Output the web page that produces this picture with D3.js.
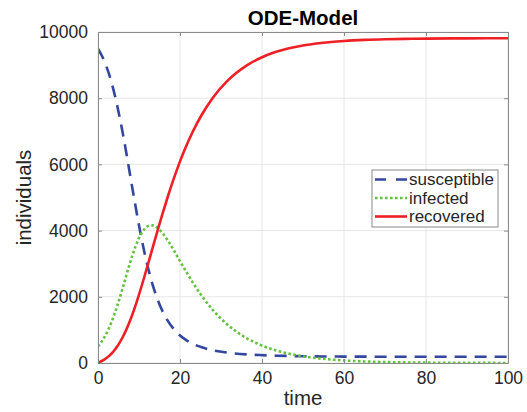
<!DOCTYPE html>
<html>
<head>
<meta charset="utf-8">
<script src="https://cdn.jsdelivr.net/npm/d3@7/dist/d3.min.js"></script>
<style>
  html, body { margin: 0; padding: 0; background: #fff; }
  svg { display: block; font-family: "Liberation Sans", Arial, Helvetica, sans-serif; }
</style>
</head>
<body>
<svg id="chart" width="527" height="412"></svg>
<script>
// ---- data ----
const time = [0,1.52,2.58,3.41,4.09,4.68,5.20,6.11,6.88,7.56,8.48,9.83,11.06,12.23,13.37,14.53,15.71,16.96,18.29,19.73,21.34,23.16,25.31,27.93,31.36,36.40,39.34,43.45,46.32,50.31,56.89,60,65,70,75,80,90,100];
const susceptible = [9500,9128,8770,8426,8095,7778,7473,6898,6368,5878,5214,4269,3495,2861,2343,1918,1570,1286,1053,862,706,578,473,387,317,260,240,221,213,204,196,194,192,190,189,189,188,188];
const infected = [500,773,1030,1274,1505,1722,1927,2302,2632,2922,3286,3731,4005,4139,4157,4082,3930,3714,3447,3138,2794,2422,2027,1613,1183,740,560,379,288,196,104,77,47,29,18,11,4,2];
const recovered = [0,100,200,300,400,500,600,800,1000,1200,1500,2000,2500,3000,3500,4000,4500,5000,5500,6000,6500,7000,7500,8000,8500,9000,9200,9400,9500,9600,9700,9729,9761,9781,9793,9800,9808,9810];
const seriesNames = ["susceptible", "infected", "recovered"];
const xTicks = [0, 20, 40, 60, 80, 100];
const yTicks = [0, 2000, 4000, 6000, 8000, 10000];
const titleText = "ODE-Model";
const xLabelText = "time";
const yLabelText = "individuals";

// ---- layout / styles ----
const W = 527, H = 412;
const plot = { left: 98, top: 32, right: 508, bottom: 363 };
const styles = [
  { color: "#3447a0", dash: "12,8", width: 2.6 },
  { color: "#62c23e", dash: "2.6,2.4", width: 2.6 },
  { color: "#ee2026", dash: null, width: 2.6 }
];
const axisColor = "#8a8a8a";
const gridColor = "#e6e6e6";
const textColor = "#262626";

const svg = d3.select("#chart");
const x = d3.scaleLinear().domain([0, 100]).range([plot.left, plot.right]);
const y = d3.scaleLinear().domain([0, 10000]).range([plot.bottom, plot.top]);

// grid
const grid = svg.append("g");
grid.selectAll("line.gx").data(xTicks).enter().append("line")
  .attr("x1", d => x(d)).attr("x2", d => x(d))
  .attr("y1", plot.top).attr("y2", plot.bottom)
  .attr("stroke", gridColor).attr("stroke-width", 1);
grid.selectAll("line.gy").data(yTicks).enter().append("line")
  .attr("y1", d => y(d)).attr("y2", d => y(d))
  .attr("x1", plot.left).attr("x2", plot.right)
  .attr("stroke", gridColor).attr("stroke-width", 1);

// series
const seriesData = [susceptible, infected, recovered];
svg.append("clipPath").attr("id", "clip").append("rect")
  .attr("x", plot.left).attr("y", plot.top - 3)
  .attr("width", plot.right - plot.left).attr("height", plot.bottom - plot.top + 3);
const lineGen = d3.line().x(d => x(d[0])).y(d => y(d[1])).curve(d3.curveMonotoneX);
const linesG = svg.append("g").attr("clip-path", "url(#clip)");
seriesData.forEach((vals, k) => {
  const pts = time.map((t, i) => [t, vals[i]]);
  const p = linesG.append("path").datum(pts)
    .attr("d", lineGen)
    .attr("fill", "none")
    .attr("stroke", styles[k].color)
    .attr("stroke-width", styles[k].width)
    .attr("stroke-linejoin", "round");
  if (styles[k].dash) p.attr("stroke-dasharray", styles[k].dash);
});

// axes (ticks pointing inward, box)
const fontSize = 17.5;
const fmt = d3.format("d");
const axB = svg.append("g").attr("transform", `translate(0,${plot.bottom})`)
  .call(d3.axisBottom(x).tickValues(xTicks).tickFormat(fmt).tickSize(-4).tickPadding(12).tickSizeOuter(0));
const axT = svg.append("g").attr("transform", `translate(0,${plot.top})`)
  .call(d3.axisTop(x).tickValues(xTicks).tickSize(-4).tickFormat("").tickSizeOuter(0));
const axL = svg.append("g").attr("transform", `translate(${plot.left},0)`)
  .call(d3.axisLeft(y).tickValues(yTicks).tickFormat(fmt).tickSize(-4).tickPadding(10).tickSizeOuter(0));
const axR = svg.append("g").attr("transform", `translate(${plot.right},0)`)
  .call(d3.axisRight(y).tickValues(yTicks).tickSize(-4).tickFormat("").tickSizeOuter(0));
[axB, axT, axL, axR].forEach(a => {
  a.select(".domain").attr("stroke", axisColor).attr("stroke-width", 1);
  a.selectAll(".tick line").attr("stroke", axisColor);
  a.selectAll(".tick text").attr("fill", textColor)
    .style("font-size", fontSize + "px").style("font-family", "Liberation Sans, Arial, sans-serif");
});
axB.selectAll(".tick text").attr("dy", "0.71em").attr("y", 9);

// title and labels
svg.append("text").attr("x", (plot.left + plot.right) / 2).attr("y", 25)
  .attr("text-anchor", "middle").attr("font-weight", "bold")
  .attr("font-size", 20.5).attr("fill", "#000").text(titleText);
svg.append("text").attr("x", (plot.left + plot.right) / 2).attr("y", 405)
  .attr("text-anchor", "middle").attr("font-size", 20.5).attr("fill", textColor).text(xLabelText);
svg.append("text")
  .attr("transform", `translate(31,${(plot.top + plot.bottom) / 2}) rotate(-90)`)
  .attr("text-anchor", "middle").attr("font-size", 20.5).attr("fill", textColor).text(yLabelText);

// legend
const leg = svg.append("g");
const legBox = { x: 372, y: 170, w: 126, h: 57 };
leg.append("rect").attr("x", legBox.x).attr("y", legBox.y)
  .attr("width", legBox.w).attr("height", legBox.h)
  .attr("fill", "#fff").attr("stroke", axisColor).attr("stroke-width", 1);
seriesNames.forEach((name, k) => {
  const cy = legBox.y + 9.5 + k * 18.5;
  const l = leg.append("line").attr("x1", legBox.x + 3).attr("x2", legBox.x + 35)
    .attr("y1", cy).attr("y2", cy)
    .attr("stroke", styles[k].color).attr("stroke-width", styles[k].width);
  if (styles[k].dash) l.attr("stroke-dasharray", k === 0 ? "11,10" : styles[k].dash);
  leg.append("text").attr("x", legBox.x + 37).attr("y", cy).attr("dy", "0.35em")
    .attr("font-size", 17).attr("fill", textColor).text(name);
});
</script>
</body>
</html>
